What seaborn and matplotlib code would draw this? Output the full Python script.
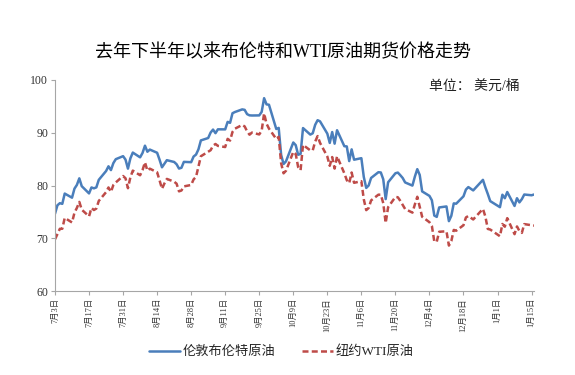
import matplotlib
matplotlib.use("Agg")
import matplotlib.pyplot as plt
from matplotlib.lines import Line2D
import pandas as pd
import seaborn as sns

# ---- data (2023 H2 – Jan 2024, USD/bbl) ----
dates = [
    # July
    "2023-07-03", "2023-07-04", "2023-07-05", "2023-07-06", "2023-07-07",
    "2023-07-10", "2023-07-11", "2023-07-12", "2023-07-13", "2023-07-14",
    "2023-07-17", "2023-07-18", "2023-07-19", "2023-07-20", "2023-07-21",
    "2023-07-24", "2023-07-25", "2023-07-26", "2023-07-27", "2023-07-28",
    "2023-07-31",
    # August
    "2023-08-01", "2023-08-02", "2023-08-03", "2023-08-04",
    "2023-08-07", "2023-08-08", "2023-08-09", "2023-08-10", "2023-08-11",
    "2023-08-14", "2023-08-15", "2023-08-16", "2023-08-17", "2023-08-18",
    "2023-08-21", "2023-08-22", "2023-08-23", "2023-08-24", "2023-08-25",
    "2023-08-28", "2023-08-29", "2023-08-30", "2023-08-31",
    # September
    "2023-09-01",
    "2023-09-04", "2023-09-05", "2023-09-06", "2023-09-07", "2023-09-08",
    "2023-09-11", "2023-09-12", "2023-09-13", "2023-09-14", "2023-09-15",
    "2023-09-18", "2023-09-19", "2023-09-20", "2023-09-21", "2023-09-22",
    "2023-09-25", "2023-09-26", "2023-09-27", "2023-09-28", "2023-09-29",
    # October
    "2023-10-02", "2023-10-03", "2023-10-04", "2023-10-05", "2023-10-06",
    "2023-10-09", "2023-10-10", "2023-10-11", "2023-10-12", "2023-10-13",
    "2023-10-16", "2023-10-17", "2023-10-18", "2023-10-19", "2023-10-20",
    "2023-10-23", "2023-10-24", "2023-10-25", "2023-10-26", "2023-10-27",
    "2023-10-30", "2023-10-31",
    # November
    "2023-11-01", "2023-11-02", "2023-11-03",
    "2023-11-06", "2023-11-07", "2023-11-08", "2023-11-09", "2023-11-10",
    "2023-11-13", "2023-11-14", "2023-11-15", "2023-11-16", "2023-11-17",
    "2023-11-20", "2023-11-21", "2023-11-22", "2023-11-23", "2023-11-24",
    "2023-11-27", "2023-11-28", "2023-11-29", "2023-11-30",
    # December
    "2023-12-01",
    "2023-12-04", "2023-12-05", "2023-12-06", "2023-12-07", "2023-12-08",
    "2023-12-11", "2023-12-12", "2023-12-13", "2023-12-14", "2023-12-15",
    "2023-12-18", "2023-12-19", "2023-12-20", "2023-12-21", "2023-12-22",
    "2023-12-26", "2023-12-27", "2023-12-28", "2023-12-29",
    # January
    "2024-01-02", "2024-01-03", "2024-01-04", "2024-01-05",
    "2024-01-08", "2024-01-09", "2024-01-10", "2024-01-11", "2024-01-12",
    "2024-01-15", "2024-01-16",
]

brent = [
    74.65, 76.25, 76.65, 76.52, 78.47, 77.69, 79.40, 80.11, 81.36, 79.87,
    78.50, 79.63, 79.46, 79.64, 81.07, 82.74, 83.64, 82.92, 84.24, 84.99,
    85.56,
    84.91, 83.20, 85.14, 86.24, 85.34, 86.17, 87.55, 86.40, 86.81,
    86.21, 84.89, 83.45, 84.12, 84.80, 84.46, 84.03, 83.21, 83.36, 84.48,
    84.42, 85.49, 85.86, 86.86,
    88.55, 89.00, 90.04, 90.60, 89.92, 90.65, 90.64, 92.06, 91.88, 93.70,
    93.93, 94.43, 94.34, 93.53, 93.30, 93.27, 93.29, 93.96, 96.55, 95.38,
    95.31,
    90.71, 90.92, 85.81, 84.07, 84.58, 88.15, 87.65, 85.82, 86.00, 90.89,
    89.65, 89.90, 91.50, 92.38, 92.16, 89.83, 88.07, 90.13, 87.93, 90.48,
    87.45, 87.41,
    84.63, 86.85, 84.89, 85.18, 81.61, 79.54, 80.01, 81.43, 82.52, 82.47,
    81.18, 77.42, 80.61, 82.32, 82.45, 81.96, 81.42, 80.58, 79.98, 81.68,
    83.10, 82.00,
    78.88, 78.03, 77.20, 74.30, 74.05, 75.84, 76.03, 73.24, 74.26, 76.61,
    76.55, 77.95, 79.23, 79.70, 79.39, 79.07, 81.07, 79.65, 78.39, 77.04,
    75.89, 78.25, 77.59, 78.76, 76.12, 77.59, 76.80, 77.41, 78.29, 78.15,
    78.29,
]

wti = [
    69.79, None, 71.79, 71.80, 73.86, 72.99, 74.83, 75.75, 76.89, 75.42,
    74.15, 75.75, 75.35, 75.63, 77.07, 78.74, 79.63, 78.78, 80.09, 80.58,
    81.80,
    81.37, 79.49, 81.55, 82.82, 81.94, 82.92, 84.40, 82.82, 83.19,
    82.51, 80.99, 79.38, 80.39, 81.25, 80.72, 80.35, 78.89, 79.05, 79.83,
    80.10, 81.16, 81.63, 83.63,
    85.55, None, 86.69, 87.54, 87.87, 87.51, 87.29, 88.84, 88.52, 90.16,
    90.77, 91.48, 91.20, 90.28, 89.63, 90.03, 89.68, 90.39, 93.68, 91.71,
    90.79,
    88.82, 89.23, 84.22, 82.31, 82.79, 86.38, 85.97, 83.49, 82.91, 87.69,
    86.66, 86.66, 88.32, 89.37, 88.08, 85.49, 83.74, 85.39, 83.21, 85.54,
    82.31, 81.02,
    80.44, 82.46, 80.51, 80.82, 77.37, 75.33, 75.74, 77.17, 78.26, 78.26,
    76.66, 72.90, 75.89, 77.83, 77.77, 77.10, None, 75.54, 74.86, 76.41,
    77.86, 75.96,
    74.07, 73.04, 72.32, 69.38, 69.34, 71.23, 71.32, 68.61, 69.47, 71.58,
    71.43, 72.47, 73.94, 74.22, 73.89, 73.56, 75.57, 74.11, 71.77, 71.65,
    70.38, 72.70, 72.19, 73.81, 70.77, 72.24, 71.37, 71.02, 72.68, None,
    72.40,
]

series_names = ["伦敦布伦特原油", "纽约WTI原油"]
tick_dates = ["2023-07-03", "2023-07-17", "2023-07-31", "2023-08-14", "2023-08-28",
              "2023-09-11", "2023-09-25", "2023-10-09", "2023-10-23", "2023-11-06",
              "2023-11-20", "2023-12-04", "2023-12-18", "2024-01-01", "2024-01-15"]
y_ticks = [60, 70, 80, 90, 100]
title = "去年下半年以来布伦特和WTI原油期货价格走势"
unit = "单位： 美元/桶"

# ---- build long table ----
df = pd.DataFrame({"date": pd.to_datetime(dates),
                   series_names[0]: brent,
                   series_names[1]: wti})
long = df.melt("date", var_name="series", value_name="price").dropna()

# ---- style ----
sns.set_theme(style="white")
plt.rcParams["font.family"] = ["Liberation Serif", "Noto Sans CJK SC"]
plt.rcParams["axes.unicode_minus"] = False

blue = "#4A7EBB"
red = "#BE4B48"
axis_gray = "#A6A6A6"

fig = plt.figure(figsize=(5.75, 3.75), dpi=100)
ax = fig.add_axes([55 / 575, 1 - 291 / 375, (534 - 55) / 575, (291 - 80) / 375])

sns.lineplot(data=long, x="date", y="price", hue="series", style="series",
             hue_order=series_names, style_order=series_names,
             palette={series_names[0]: blue, series_names[1]: red},
             dashes={series_names[0]: "", series_names[1]: (2.4, 1.3)},
             linewidth=1.8, estimator=None, legend=False, ax=ax)

ax.set_xlim(pd.Timestamp(dates[0]), pd.Timestamp(dates[-1]))
ax.set_ylim(60, 100)
ax.set_yticks(y_ticks)
ax.set_yticklabels([str(v) for v in y_ticks], fontsize=8.5, color="#333333")
td = pd.to_datetime(tick_dates)
ax.set_xticks(td)
ax.set_xticklabels([f"{d.month}月{d.day}日" for d in td], rotation=90,
                   fontsize=6, color="#333333")
ax.set_xlabel("")
ax.set_ylabel("")

for s in ["top", "right"]:
    ax.spines[s].set_visible(False)
for s in ["left", "bottom"]:
    ax.spines[s].set_color(axis_gray)
    ax.spines[s].set_linewidth(0.8)
ax.tick_params(axis="both", which="major", bottom=True, left=True,
               direction="out", length=3, width=0.8, color=axis_gray, pad=2)
ax.grid(False)

fig.text(283 / 575, 1 - 53 / 375, title, ha="center", va="center",
         fontsize=13, color="#000000")
fig.text(520 / 575, 1 - 86 / 375, unit, ha="right", va="center",
         fontsize=10, color="#222222")

handles = [Line2D([], [], color=blue, lw=1.8),
           Line2D([], [], color=red, lw=1.8, ls=(0, (2.4, 1.3)))]
fig.legend(handles, series_names, loc="center",
           bbox_to_anchor=(281 / 575, 1 - 352 / 375), ncol=2, frameon=False,
           fontsize=9.5, handlelength=2.4, handletextpad=0.15,
           columnspacing=2.0)

fig.savefig("out.png", dpi=100, facecolor="white")
